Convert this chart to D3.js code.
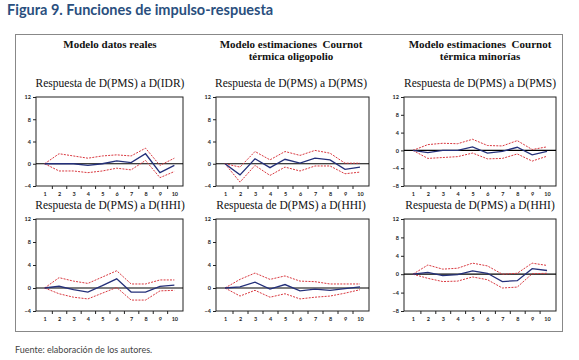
<!DOCTYPE html>
<html><head><meta charset="utf-8">
<script src="https://cdn.jsdelivr.net/npm/d3@7"></script>
<style>
body{margin:0;background:#fff;}
svg{display:block;}
text{white-space:pre;}
</style></head>
<body>
<svg id="c" width="579" height="360"></svg>
<script>
// ---------- data ----------
const periods = [1,2,3,4,5,6,7,8,9,10];
const columnTitles = [["Modelo datos reales"],["Modelo estimaciones  Cournot","térmica oligopolio"],["Modelo estimaciones  Cournot","térmica minorías"]];
const panelTitles = ["Respuesta de D(PMS) a D(IDR)","Respuesta de D(PMS) a D(PMS)","Respuesta de D(PMS) a D(PMS)",
                     "Respuesta de D(PMS) a D(HHI)","Respuesta de D(PMS) a D(HHI)","Respuesta de D(PMS) a D(HHI)"];
const yTicksA = [-4,0,4,8,12];
const yTicksB = [-8,-4,0,4,8,12];

// panel 1 (top-left) IDR
const resp1  = [0,0,0,-0.3,0,0.5,0.2,1.8,-1.6,-0.3];
const upper1 = [0,1.8,1.4,1.0,1.4,1.6,1.4,2.8,-0.3,1.0];
const lower1 = [0,-1.3,-1.3,-1.6,-1.3,-0.8,-1.1,0.6,-2.5,-1.4];
// panel 2 (top-middle)
const resp2  = [0,-2.0,0.9,-0.7,0.8,0.1,1.0,0.7,-1.0,-0.6];
const upper2 = [0,-0.6,2.2,0.7,2.2,1.5,2.4,1.9,0.1,0.1];
const lower2 = [0,-3.3,-0.3,-2.1,-0.6,-1.3,-0.4,-0.4,-1.8,-1.5];
// panel 3 (top-right)
const resp3  = [0,-0.5,0,0,0.8,-0.6,-0.2,0.7,-1.0,-0.2];
const upper3 = [0,1.3,1.6,1.5,2.5,1.1,1.0,2.2,0.2,0.8];
const lower3 = [0,-1.8,-1.6,-1.4,-0.6,-1.9,-1.8,-0.8,-2.4,-1.3];
// panel 4 (bottom-left)
const resp4  = [0,0.3,-0.3,-0.7,0.4,1.6,-0.7,-0.7,0.3,0.5];
const upper4 = [0,1.8,1.2,0.8,1.9,3.0,0.7,0.7,1.4,1.4];
const lower4 = [0,-1.0,-1.6,-1.9,-0.9,0.1,-2.1,-2.1,-0.5,-0.4];
// panel 5 (bottom-middle)
const resp5  = [0,0.2,1.0,-0.2,0.6,-0.5,-0.2,-0.4,-0.1,0.2];
const upper5 = [0,1.5,2.6,1.5,2.1,1.2,1.1,0.7,0.7,0.7];
const lower5 = [0,-1.4,-0.4,-1.6,-1.0,-1.9,-1.6,-1.4,-0.9,-0.3];
// panel 6 (bottom-right)
const resp6  = [0,0.4,-0.3,-0.1,0.7,0.2,-1.6,-1.4,1.2,0.8];
const upper6 = [0,2.0,1.1,1.3,2.4,1.8,0,0.2,2.4,1.9];
const lower6 = [0,-0.9,-1.6,-1.5,-0.6,-1.2,-3.0,-2.8,0.1,0.2];

const panels = [
  {title:panelTitles[0], resp:resp1, up:upper1, lo:lower1, ticks:yTicksA, col:0, row:0},
  {title:panelTitles[1], resp:resp2, up:upper2, lo:lower2, ticks:yTicksA, col:1, row:0},
  {title:panelTitles[2], resp:resp3, up:upper3, lo:lower3, ticks:yTicksB, col:2, row:0},
  {title:panelTitles[3], resp:resp4, up:upper4, lo:lower4, ticks:yTicksA, col:0, row:1},
  {title:panelTitles[4], resp:resp5, up:upper5, lo:lower5, ticks:yTicksA, col:1, row:1},
  {title:panelTitles[5], resp:resp6, up:upper6, lo:lower6, ticks:yTicksB, col:2, row:1}
];

// ---------- layout ----------
const svg = d3.select("#c");
const serif = "'Liberation Serif','DejaVu Serif',serif";
const sans = "Lato,'Noto Sans',sans-serif";

svg.append("text").attr("x",7).attr("y",15)
  .attr("font-family",sans).attr("font-weight",700).attr("font-size",14.5)
  .attr("fill","#2a4f7e").text("Figura 9. Funciones de impulso-respuesta");

svg.append("rect").attr("x",15.5).attr("y",34.5).attr("width",547).attr("height",297)
  .attr("fill","none").attr("stroke","#888").attr("stroke-width",1);

svg.append("text").attr("x",15).attr("y",353)
  .attr("font-family",sans).attr("font-size",9).attr("fill","#444")
  .text("Fuente: elaboración de los autores.");

const colX = [[36,183],[216,369],[404,556]];
const colCenter = [110,291,480];
const rowY = [[97,186],[219,311]];
const subY = [87,209];

columnTitles.forEach((lines,i)=>{
  lines.forEach((t,j)=>{
    svg.append("text").attr("x",colCenter[i]).attr("y",48+j*12)
      .attr("text-anchor","middle").attr("font-family",serif).attr("font-weight",700)
      .attr("font-size",11).attr("fill","#111").text(t);
  });
});

panels.forEach(p=>{
  const [x0,x1] = colX[p.col];
  const [y0,y1] = rowY[p.row];
  const x = d3.scaleLinear().domain([0.4,10.6]).range([x0,x1]);
  const y = d3.scaleLinear().domain([d3.min(p.ticks),d3.max(p.ticks)]).range([y1,y0]);
  const g = svg.append("g");

  g.append("text").attr("x",colCenter[p.col]).attr("y",subY[p.row])
    .attr("text-anchor","middle").attr("font-family",serif).attr("font-size",11.5)
    .attr("fill","#111").text(p.title);

  // box
  g.append("rect").attr("x",x0).attr("y",y0).attr("width",x1-x0).attr("height",y1-y0)
    .attr("fill","none").attr("stroke","#222").attr("stroke-width",1);

  // y axis
  const ya = d3.axisLeft(y).tickValues(p.ticks).tickSize(3).tickPadding(2).tickFormat(d3.format("d"));
  const yg = g.append("g").attr("transform",`translate(${x0},0)`).call(ya);
  yg.select(".domain").remove();
  yg.selectAll("text").attr("font-family",sans).attr("font-weight",700).attr("font-size",5.5).attr("fill","#222");
  yg.selectAll("line").attr("stroke","#222");

  // x axis
  const xa = d3.axisBottom(x).tickValues(periods).tickSize(0).tickPadding(6).tickFormat(d3.format("d"));
  const xg = g.append("g").attr("transform",`translate(0,${y1})`).call(xa);
  xg.select(".domain").remove();
  xg.selectAll("text").attr("font-family",sans).attr("font-weight",700).attr("font-size",5.5).attr("fill","#222");
  const mids = d3.range(1,11).map(d=>d+0.5).slice(0,9);
  const xm = d3.axisBottom(x).tickValues(mids).tickSize(3).tickFormat("");
  const xmg = g.append("g").attr("transform",`translate(0,${y1})`).call(xm);
  xmg.select(".domain").remove();
  xmg.selectAll("line").attr("stroke","#222");

  // zero line
  g.append("line").attr("x1",x0).attr("x2",x1).attr("y1",y(0)).attr("y2",y(0))
    .attr("stroke","#000").attr("stroke-width",1.2);

  const line = d3.line().x((d,i)=>x(periods[i])).y(d=>y(d));
  g.append("path").datum(p.up).attr("d",line).attr("fill","none")
    .attr("stroke","#d9383f").attr("stroke-width",1).attr("stroke-dasharray","2,1.2");
  g.append("path").datum(p.lo).attr("d",line).attr("fill","none")
    .attr("stroke","#d9383f").attr("stroke-width",1).attr("stroke-dasharray","2,1.2");
  g.append("path").datum(p.resp).attr("d",line).attr("fill","none")
    .attr("stroke","#24307a").attr("stroke-width",1.3);
});
</script>
</body></html>
